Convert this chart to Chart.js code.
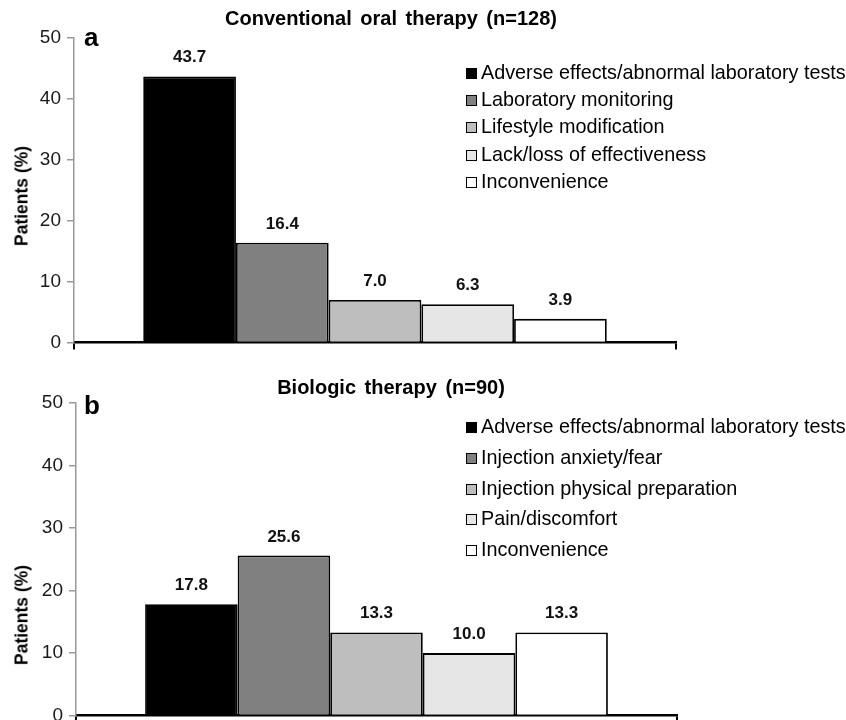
<!DOCTYPE html>
<html>
<head>
<meta charset="utf-8">
<script src="https://cdn.jsdelivr.net/npm/chart.js@4.4.0/dist/chart.umd.min.js"></script>
<style>
  html, body { margin: 0; padding: 0; background: #fff; width: 846px; height: 720px; overflow: hidden;
    font-family: "Liberation Sans", Arial, sans-serif; color: #000; }
  .panel { position: absolute; left: 0; width: 846px; }
  .panel canvas { position: absolute; left: 0; top: 0; }
  .title { position: absolute; font-weight: bold; font-size: 20px; white-space: nowrap; transform: translateX(-50%); word-spacing: 3px; }
  .letter { position: absolute; font-weight: bold; font-size: 26px; }
  .ytitle { position: absolute; font-weight: bold; font-size: 17.5px; white-space: nowrap;
    transform: translate(-50%, -50%) rotate(-90deg); }
  .legend { position: absolute; font-size: 19.8px; }
  .legend .row { position: absolute; left: 0; white-space: nowrap; line-height: 20px; }
  .legend .sw { position: absolute; left: 0; top: 4px; width: 9px; height: 9px; border: 1.5px solid #000; }
  .legend .tx { position: absolute; left: 15px; top: -2px; }
</style>
</head>
<body>
<div class="panel" id="panelA" style="top:0;height:370px;">
  <canvas id="chartA" width="846" height="360"></canvas>
  <div class="title" style="left:391px;top:7px;">Conventional oral therapy (n=128)</div>
  <div class="letter" style="left:84px;top:22px;">a</div>
  <div class="ytitle" style="left:22px;top:196px;">Patients (%)</div>
  <div class="legend" id="legendA" style="left:466px;top:64px;"></div>
</div>
<div class="panel" id="panelB" style="top:365px;height:380px;">
  <canvas id="chartB" width="846" height="368"></canvas>
  <div class="title" style="left:391px;top:11px;">Biologic therapy (n=90)</div>
  <div class="letter" style="left:84px;top:25px;">b</div>
  <div class="ytitle" style="left:22px;top:250px;">Patients (%)</div>
  <div class="legend" id="legendB" style="left:466px;top:53px;"></div>
</div>
<script>
// One group per panel; each reason is its own dataset so the bars sit side by side.
const categories = [''];
const reasonsOral = ['Adverse effects/abnormal laboratory tests', 'Laboratory monitoring',
  'Lifestyle modification', 'Lack/loss of effectiveness', 'Inconvenience'];
const percentOral = [43.7, 16.4, 7.0, 6.3, 3.9];
const reasonsBiologic = ['Adverse effects/abnormal laboratory tests', 'Injection anxiety/fear',
  'Injection physical preparation', 'Pain/discomfort', 'Inconvenience'];
const percentBiologic = [17.8, 25.6, 13.3, 10.0, 13.3];
const yTickValues = [0, 10, 20, 30, 40, 50];
const shades = ['#000000', '#808080', '#bebebe', '#e6e6e6', '#ffffff'];

const FONT = '"Liberation Sans", Arial, sans-serif';

// Bold value printed above each bar.
const valueLabels = {
  id: 'valueLabels',
  afterDatasetsDraw(chart) {
    const ctx = chart.ctx;
    ctx.save();
    ctx.font = 'bold 17px ' + FONT;
    ctx.fillStyle = '#111';
    ctx.textAlign = 'center';
    ctx.textBaseline = 'alphabetic';
    chart.data.datasets.forEach((ds, i) => {
      chart.getDatasetMeta(i).data.forEach((bar, j) => {
        ctx.fillText(ds.data[j].toFixed(1), bar.x, bar.y - 14);
      });
    });
    ctx.restore();
  }
};

function buildLegend(id, labels, rowGap) {
  const box = document.getElementById(id);
  labels.forEach((label, i) => {
    const row = document.createElement('div');
    row.className = 'row';
    row.style.top = (i * rowGap) + 'px';
    const sw = document.createElement('span');
    sw.className = 'sw';
    sw.style.background = shades[i];
    const tx = document.createElement('span');
    tx.className = 'tx';
    tx.textContent = label;
    row.appendChild(sw);
    row.appendChild(tx);
    box.appendChild(row);
  });
}

function makeChart(canvasId, labels, values, leftWidth, rightPad) {
  return new Chart(document.getElementById(canvasId), {
    type: 'bar',
    data: {
      labels: categories,
      datasets: labels.map((label, i) => ({
        label: label,
        data: [values[i]],
        backgroundColor: shades[i],
        borderColor: '#000',
        borderWidth: 1.8,
        barPercentage: 1,
        categoryPercentage: 0.77
      }))
    },
    options: {
      responsive: false,
      animation: false,
      devicePixelRatio: 1,
      layout: { padding: { left: 0, right: rightPad, top: 38, bottom: 0 } },
      plugins: { legend: { display: false }, title: { display: false }, tooltip: { enabled: false } },
      scales: {
        x: {
          ticks: { display: false },
          grid: { display: true, drawOnChartArea: false, drawTicks: true, tickLength: 7, color: '#000', lineWidth: 2 },
          border: { display: true, color: '#000', width: 2.5 },
          afterFit: s => { s.height = 16; }
        },
        y: {
          min: 0, max: 50,
          afterBuildTicks: s => { s.ticks = yTickValues.map(v => ({ value: v })); },
          ticks: { color: '#1a1a1a', font: { size: 19, family: FONT }, padding: 6 },
          grid: { drawOnChartArea: false, tickLength: 7, color: '#999', lineWidth: 1.5 },
          border: { display: true, color: '#999', width: 1.5 },
          afterFit: s => { s.width = leftWidth; }
        }
      }
    },
    plugins: [valueLabels]
  });
}

makeChart('chartA', reasonsOral, percentOral, 74, 170);
makeChart('chartB', reasonsBiologic, percentBiologic, 76, 169);
buildLegend('legendA', reasonsOral, 27.2);
buildLegend('legendB', reasonsBiologic, 30.8);
</script>
</body>
</html>
